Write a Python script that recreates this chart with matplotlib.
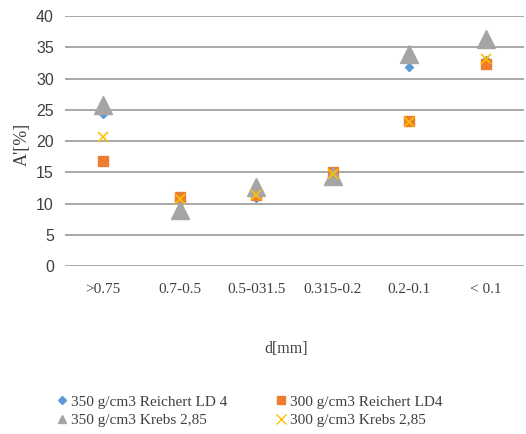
import matplotlib
matplotlib.use("Agg")
import matplotlib.pyplot as plt
from matplotlib.lines import Line2D

categories = [">0.75", "0.7-0.5", "0.5-031.5", "0.315-0.2", "0.2-0.1", "< 0.1"]
s_350_reichert = [24.3, 8.2, 10.9, 14.5, 31.9, 33.0]
s_300_reichert = [16.8, 11.0, 11.4, 15.1, 23.2, 32.3]
s_350_krebs = [25.8, 9.0, 12.7, 14.4, 34.0, 36.4]
s_300_krebs = [20.6, 10.7, 11.3, 14.8, 23.0, 33.2]
labels = ["350 g/cm3 Reichert LD 4", "300 g/cm3 Reichert LD4",
          "350 g/cm3 Krebs 2,85", "300 g/cm3 Krebs 2,85"]
yticks = [0, 5, 10, 15, 20, 25, 30, 35, 40]

fig = plt.figure(figsize=(5.26, 4.34), dpi=100)
ax = fig.add_axes([0.1236, 0.387, 0.873, 0.576])
x = list(range(len(categories)))

h1, = ax.plot(x, s_350_reichert, linestyle="none", marker="D", ms=4.5, color="#5B9BD5", zorder=3)
h2, = ax.plot(x, s_300_reichert, linestyle="none", marker="s", ms=6.5, color="#ED7D31", zorder=4)
h3, = ax.plot(x, s_350_krebs, linestyle="none", marker="^", ms=12.5, color="#A5A5A5", zorder=5)
h4, = ax.plot(x, s_300_krebs, linestyle="none", marker="x", ms=7, mew=1.2, color="#FFC000", zorder=6)

ax.set_xlim(-0.5, len(categories) - 0.5)
ax.set_ylim(0, 40)
ax.set_yticks(yticks)
ax.set_xticks(x)
ax.set_xticklabels(categories, family="Liberation Serif", fontsize=11, color="#404040")
ax.set_yticklabels([str(v) for v in yticks], family="Liberation Sans", fontsize=11.5, color="#404040")
ax.tick_params(length=0, pad=8)
ax.tick_params(axis="x", pad=12)
for sp in ax.spines.values():
    sp.set_visible(False)
ax.grid(axis="y", color="#999999", linewidth=1.2)
ax.set_axisbelow(True)

fig.text(0.042, 0.668, "A'[%]", rotation=90, ha="center", va="center",
         family="Liberation Serif", fontsize=13, color="#404040")
fig.text(0.545, 0.195, "d[mm]", ha="center", va="center",
         family="Liberation Serif", fontsize=11.5, color="#404040")

leg_handles = [
    Line2D([], [], linestyle="none", marker="D", ms=4, color="#5B9BD5"),
    Line2D([], [], linestyle="none", marker="s", ms=6, color="#ED7D31"),
    Line2D([], [], linestyle="none", marker="^", ms=6, color="#A5A5A5"),
    Line2D([], [], linestyle="none", marker="x", ms=7, color="#FFC000"),
]
order = [0, 2, 1, 3]
fig.legend([leg_handles[i] for i in order], [labels[i] for i in order],
           ncol=2, loc="center", bbox_to_anchor=(0.475, 0.053), frameon=False,
           prop={"family": "Liberation Serif", "size": 11},
           labelcolor="#404040", handlelength=0.6, handletextpad=0.3,
           columnspacing=3.2, labelspacing=0.3)

fig.savefig("out.png", dpi=100)
